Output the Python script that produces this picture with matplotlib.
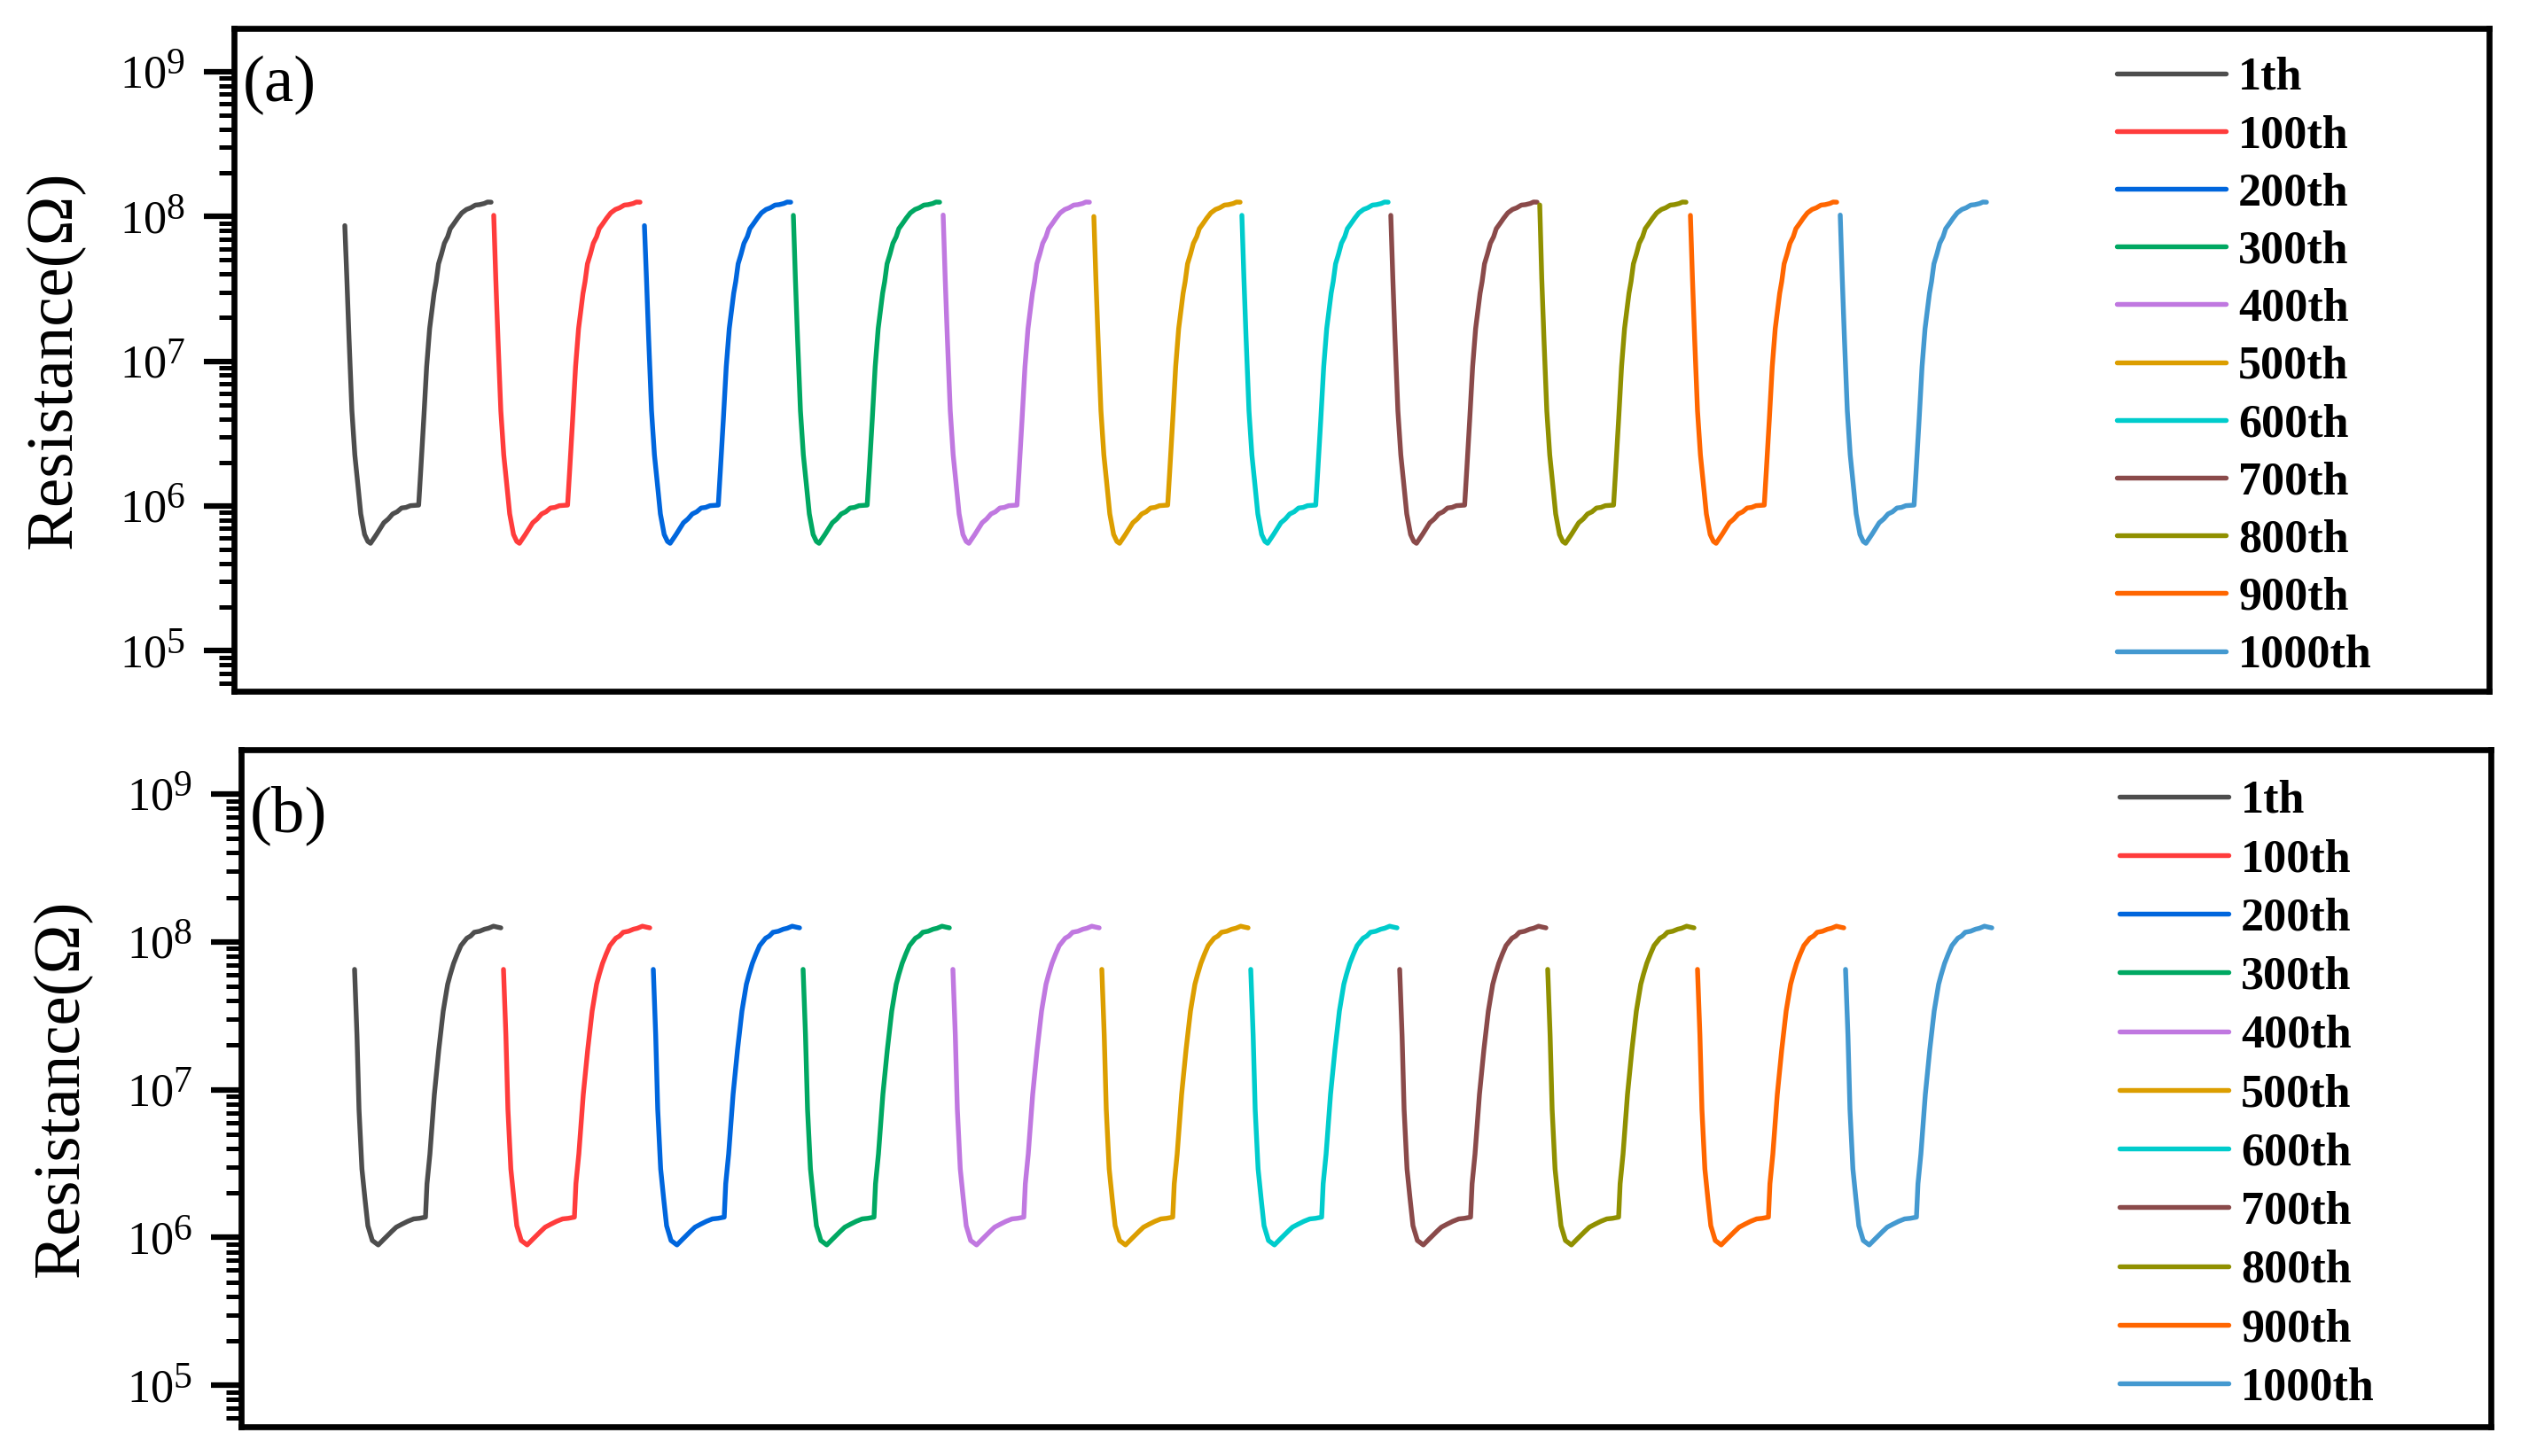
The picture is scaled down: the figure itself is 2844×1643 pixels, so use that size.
import numpy as np
import matplotlib
matplotlib.use("Agg")
import matplotlib.pyplot as plt
from matplotlib.ticker import LogLocator, NullFormatter, NullLocator

try:
    import matplotlib._mathtext as _mt
    _mt.SHRINK_FACTOR = 0.8  # bigger exponents, like the original
except Exception:
    pass

plt.rcParams['font.family'] = ['Liberation Serif', 'DejaVu Serif']
plt.rcParams['mathtext.fontset'] = 'custom'
plt.rcParams['mathtext.rm'] = 'Liberation Serif'

labels = ['1th', '100th', '200th', '300th', '400th', '500th',
          '600th', '700th', '800th', '900th', '1000th']
colors = ['#4d4d4d', '#ff3c3c', '#0066dd', '#00a862', '#c078e0', '#dc9e00',
          '#00cccc', '#8a4a4a', '#909000', '#ff6600', '#4499d0']

# (a) one response cycle, time (s) relative to cycle start, log10(R/ohm)
cycle_t_a = [0, 2.3, 4.7, 8, 11.3, 14.7, 18, 22.3, 26, 29, 35.7, 40, 44, 49,
             54, 59, 64, 69, 74, 83.3, 85.7, 89, 92.3, 95.7, 100.7, 103,
             105.7, 109, 112.3, 116, 119, 123, 127.3, 132, 137.3, 142, 147.3,
             152, 157.3, 161, 165]
cycle_logr_a = [None, 7.571, 7.165, 6.657, 6.352, 6.148, 5.945, 5.803, 5.755,
                5.742, 5.803, 5.845, 5.884, 5.91, 5.945, 5.96, 5.986, 5.99,
                6.002, 6.006, 6.25, 6.596, 6.962, 7.226, 7.47, 7.55, 7.673,
                7.74, 7.815, 7.86, 7.916, 7.95, 7.988, 8.025, 8.049, 8.06,
                8.079, 8.082, 8.09, 8.1, 8.099]
start_t_a = [0, 168, 338, 506, 675, 845, 1012, 1180, 1348, 1518, 1687]
start_logr_a = [7.937, 8.008, 7.937, 8.008, 8.01, 8.0, 8.008, 8.008, 8.08,
                8.008, 8.01]

# (b)
cycle_t_b = [0, 2.7, 5, 8.3, 11.7, 15, 20, 26.7, 33.3, 41.7, 47, 53.3, 60,
             66.7, 73, 80, 81.7, 85, 90, 95, 100, 105, 108, 111.7, 116, 120,
             126.7, 131, 135, 141, 146.7, 151, 156.7, 161, 165]
cycle_logr_b = [None, 7.37, 6.867, 6.464, 6.263, 6.08, 5.98, 5.95, 5.99, 6.04,
                6.07, 6.09, 6.11, 6.126, 6.13, 6.138, 6.364, 6.565, 6.968,
                7.27, 7.532, 7.713, 7.78, 7.854, 7.92, 7.975, 8.025, 8.04,
                8.065, 8.072, 8.086, 8.092, 8.106, 8.1, 8.095]
start_t_b = [0, 168, 337, 506, 675, 843, 1011, 1179, 1346, 1515, 1682]
start_logr_b = [7.814] * 11

W, H = 2845, 1643
fig = plt.figure(figsize=(W / 300, H / 300), dpi=300)


def px_axes(left, top, right, bottom):
    return fig.add_axes([left / W, 1 - bottom / H, (right - left) / W, (bottom - top) / H])


def draw_panel(ax, cyc_t, cyc_logr, starts_t, starts_logr, xlim, tag, tag_y,
               leg_y, leg_sp):
    for i in range(11):
        t = np.array(cyc_t) + starts_t[i]
        lr = np.array([starts_logr[i]] + cyc_logr[1:], dtype=float)
        ax.plot(t, 10 ** lr, color=colors[i], lw=1.3, label=labels[i],
                solid_capstyle='round', solid_joinstyle='round')
    ax.set_yscale('log')
    ax.set_ylim(10 ** 4.72, 10 ** 9.3)
    ax.set_xlim(*xlim)
    ax.xaxis.set_major_locator(NullLocator())
    ax.xaxis.set_minor_locator(NullLocator())
    ax.yaxis.set_major_locator(LogLocator(base=10, numticks=20))
    ax.yaxis.set_minor_locator(LogLocator(base=10, subs=np.arange(2, 10), numticks=20))
    ax.yaxis.set_minor_formatter(NullFormatter())
    ax.tick_params(axis='y', which='major', direction='out', length=8.2, width=1.5,
                   labelsize=12.5, pad=5)
    ax.tick_params(axis='y', which='minor', direction='out', length=4, width=1.2)
    for s in ax.spines.values():
        s.set_linewidth(1.6)
    ax.set_ylabel('Resistance(Ω)', fontsize=18)
    ax.yaxis.set_label_coords(-0.066, 0.5)
    ax.text(0.004, tag_y, tag, transform=ax.transAxes, fontsize=18,
            ha='left', va='center')
    ax.legend(loc='upper left', bbox_to_anchor=(0.835, leg_y), frameon=False,
              prop={'family': 'Liberation Serif', 'weight': 'bold', 'size': 12.5},
              handlelength=2.35, handletextpad=0.28, labelspacing=leg_sp,
              borderaxespad=0, borderpad=0)


ax1 = px_axes(264, 32, 2808, 780)
draw_panel(ax1, cycle_t_a, cycle_logr_a, start_t_a, start_logr_a,
           (-125, 2419), '(a)', 0.914, 0.9573, 0.33)

ax2 = px_axes(272, 846, 2810, 1610)
draw_panel(ax2, cycle_t_b, cycle_logr_b, start_t_b, start_logr_b,
           (-128, 2410), '(b)', 0.903, 0.9555, 0.35)

fig.savefig('out.png', dpi=300)
